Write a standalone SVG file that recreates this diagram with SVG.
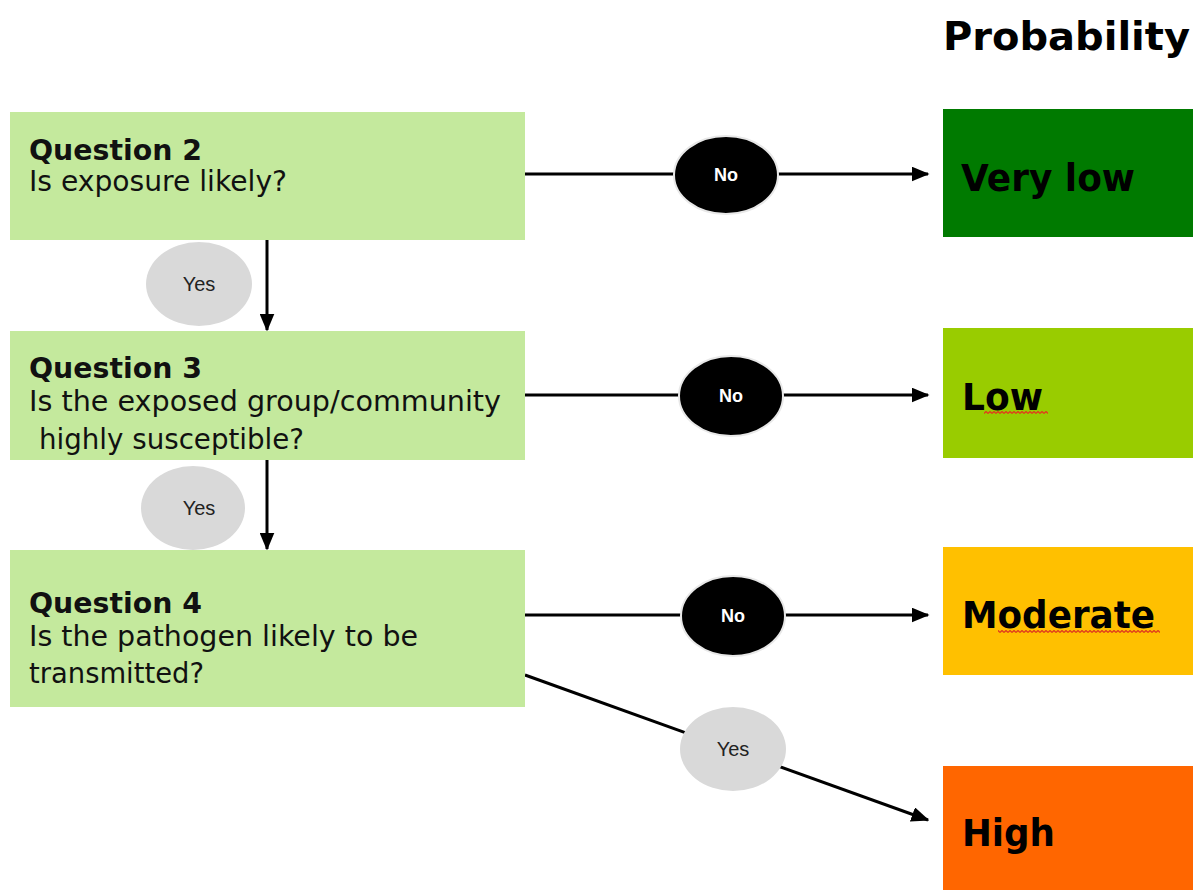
<svg xmlns="http://www.w3.org/2000/svg" width="1195" height="890" viewBox="0 0 1195 890">
<style>
.q{fill:#C4E99D}
.t{font-family:"DejaVu Sans",Verdana,sans-serif;font-size:27.5px;fill:#111}
.b{font-weight:bold}
.o{font-family:"DejaVu Sans",Verdana,sans-serif;font-size:37px;font-weight:bold;fill:#000}
.ln{stroke:#000;stroke-width:3;fill:none}
.no{fill:#000;stroke:#e8e8e8;stroke-width:2}
.nt{font-family:"Liberation Sans",Arial,sans-serif;font-size:18px;font-weight:bold;fill:#fff;text-anchor:middle}
.ye{fill:#D9D9D9}
.yt{font-family:"Liberation Sans",Arial,sans-serif;font-size:20px;fill:#222;text-anchor:middle}
</style>
<defs>
<marker id="ah" markerWidth="6" markerHeight="5" refX="5.5" refY="2.5" orient="auto" markerUnits="strokeWidth">
<path d="M0,0 L6,2.5 L0,5 z" fill="#000"/>
</marker>
<pattern id="wave" width="4" height="3" patternUnits="userSpaceOnUse">
<path d="M0,2.5 L2,0.5 L4,2.5" stroke="#E03C1C" stroke-width="1.3" fill="none"/>
</pattern>
</defs>
<rect width="1195" height="890" fill="#fff"/>
<text x="943" y="50" class="o" textLength="247" lengthAdjust="spacingAndGlyphs" style="font-size:39px">Probability</text>

<g id="connectors">
<line class="ln" x1="525" y1="174" x2="928" y2="174" marker-end="url(#ah)"/>
<line class="ln" x1="525" y1="395" x2="928" y2="395" marker-end="url(#ah)"/>
<line class="ln" x1="525" y1="615" x2="928" y2="615" marker-end="url(#ah)"/>
<line class="ln" x1="267" y1="240" x2="267" y2="330" marker-end="url(#ah)"/>
<line class="ln" x1="267" y1="460" x2="267" y2="549" marker-end="url(#ah)"/>
<line class="ln" x1="525" y1="675" x2="928" y2="820" marker-end="url(#ah)"/>
<ellipse class="no" cx="726" cy="175" rx="52" ry="39"/>
<text class="nt" x="726" y="181">No</text>
<ellipse class="no" cx="731" cy="396" rx="52" ry="40"/>
<text class="nt" x="731" y="402">No</text>
<ellipse class="no" cx="733" cy="616" rx="52" ry="40"/>
<text class="nt" x="733" y="622">No</text>
<ellipse class="ye" cx="199" cy="284" rx="53" ry="42"/>
<text class="yt" x="199" y="291">Yes</text>
<ellipse class="ye" cx="193" cy="508" rx="52" ry="42"/>
<text class="yt" x="199" y="515">Yes</text>
<ellipse class="ye" cx="733" cy="749" rx="53" ry="42"/>
<text class="yt" x="733" y="756">Yes</text>
</g>

<g id="q2">
<rect class="q" x="10" y="112" width="515" height="128"/>
<text class="t b" x="29" y="160" textLength="173" lengthAdjust="spacingAndGlyphs">Question 2</text>
<text class="t" x="29" y="191" textLength="258" lengthAdjust="spacingAndGlyphs">Is exposure likely?</text>
</g>
<g id="q3">
<rect class="q" x="10" y="331" width="515" height="129"/>
<text class="t b" x="29" y="378" textLength="173" lengthAdjust="spacingAndGlyphs">Question 3</text>
<text class="t" x="29" y="411" textLength="472" lengthAdjust="spacingAndGlyphs">Is the exposed group/community</text>
<text class="t" x="39" y="449" textLength="265" lengthAdjust="spacingAndGlyphs">highly susceptible?</text>
</g>
<g id="q4">
<rect class="q" x="10" y="550" width="515" height="157"/>
<text class="t b" x="29" y="613" textLength="173" lengthAdjust="spacingAndGlyphs">Question 4</text>
<text class="t" x="29" y="646" textLength="389" lengthAdjust="spacingAndGlyphs">Is the pathogen likely to be</text>
<text class="t" x="29" y="683" textLength="175" lengthAdjust="spacingAndGlyphs">transmitted?</text>
</g>

<g id="verylow">
<rect x="943" y="109" width="250" height="128" fill="#007A00"/>
<text class="o" x="961" y="191" textLength="174" lengthAdjust="spacingAndGlyphs">Very low</text>
</g>
<g id="low">
<rect x="943" y="328" width="250" height="130" fill="#99CC00"/>
<text class="o" x="962" y="410" textLength="81" lengthAdjust="spacingAndGlyphs">Low</text>
<rect x="984" y="411" width="64" height="3" fill="url(#wave)"/>
</g>
<g id="moderate">
<rect x="943" y="547" width="250" height="128" fill="#FFC000"/>
<text class="o" x="962" y="628" textLength="193" lengthAdjust="spacingAndGlyphs">Moderate</text>
<rect x="998" y="630" width="162" height="3" fill="url(#wave)"/>
</g>
<g id="high">
<rect x="943" y="766" width="250" height="124" fill="#FF6600"/>
<text class="o" x="962" y="846" textLength="93" lengthAdjust="spacingAndGlyphs">High</text>
</g>
</svg>
